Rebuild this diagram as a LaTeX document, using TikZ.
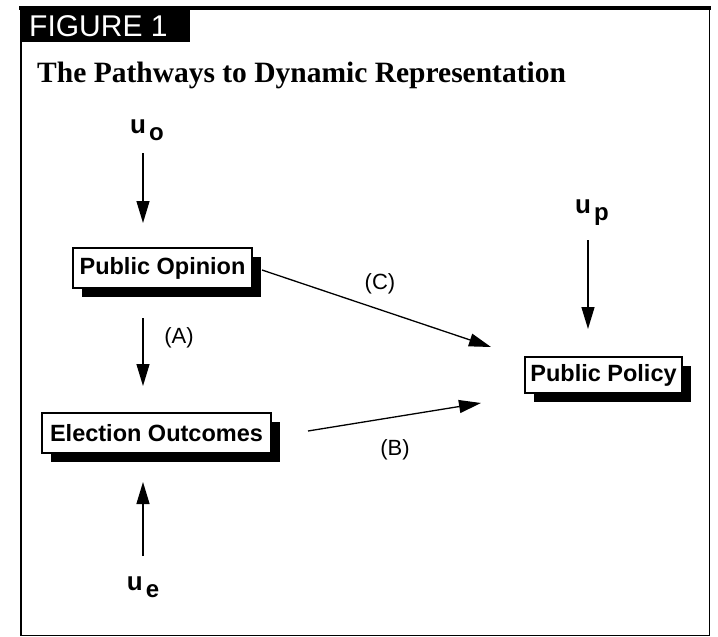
\documentclass[tikz,border=0pt]{standalone}
\usepackage{fontspec}
\setmainfont{Liberation Serif}
\setsansfont{Liberation Sans}
\usetikzlibrary{arrows.meta,shadows}
\tikzset{
  box/.style={draw=black, line width=1.2pt, fill=white, inner sep=0pt,
    font=\sffamily\bfseries\fontsize{23.5}{26}\selectfont,
    drop shadow={shadow xshift=9pt, shadow yshift=-9pt, fill=black, opacity=1}},
  lab/.style={font=\sffamily\fontsize{22}{24}\selectfont, inner sep=0pt},
  var/.style={font=\sffamily\bfseries\fontsize{26}{28}\selectfont, inner sep=0pt},
  arr/.style={line width=1.3pt, -{Triangle[length=22pt,width=13pt]}}
}
\newcommand{\subtx}[1]{{\kern3pt\raisebox{-7pt}{\fontsize{24}{26}\selectfont #1}}}
\begin{document}
\begin{tikzpicture}[x=1pt,y=-1pt]
\useasboundingbox (0,0) rectangle (718,637);
\fill[white] (0,0) rectangle (718,637);
% frame
\draw[line width=1.6pt] (20.8,8) -- (20.8,635.5) -- (709.5,635.5) -- (709.5,8);
\draw[line width=4pt] (19,8) -- (711,8);
\node[fill=black, minimum width=170pt, minimum height=34pt, anchor=north west, inner sep=0pt] (figbox) at (20,8) {};
\node[text=white, font=\sffamily\fontsize{30}{32}\selectfont, anchor=west, inner sep=0pt] (figlab) at (29,26) {FIGURE 1};
\node[font=\bfseries\fontsize{29.5}{32}\selectfont, anchor=west, inner sep=0pt] (title) at (37,75) {The Pathways to Dynamic Representation};
% boxes
\node[box, minimum width=179pt, minimum height=40pt] (po) at (162.5,268) {Public Opinion};
\node[box, minimum width=229pt, minimum height=40pt] (eo) at (156.5,433) {Election Outcomes};
\node[box, minimum width=157pt, minimum height=36pt] (pp) at (603.5,375) {Public Policy};
% error terms
\node[var] (uo) at (147,130) {u\subtx{o}};
\node[var] (ue) at (143,587) {u\subtx{e}};
\node[var] (up) at (592,213) {u\subtx{p}};
% arrow ends
\coordinate (uoS) at (143,153);
\coordinate (poN) at (143,223);
\coordinate (poS) at (143,318);
\coordinate (eoN) at (143,386);
\coordinate (ueN) at (143,556);
\coordinate (eoS) at (143,482);
\coordinate (upS) at (588,240);
\coordinate (ppN) at (588,329);
\coordinate (poE) at (262,270);
\coordinate (ppW) at (491,347);
\coordinate (eoE) at (308,431);
\coordinate (ppW2) at (481,403);
\draw[arr] (uoS) -- (poN);
\draw[arr] (poS) -- (eoN);
\draw[arr] (ueN) -- (eoS);
\draw[arr] (upS) -- (ppN);
\draw[arr] (poE) -- (ppW);
\draw[arr] (eoE) -- (ppW2);
% labels
\node[lab] (la) at (179,338) {(A)};
\node[lab] (lc) at (380,284) {(C)};
\node[lab] (lb) at (395,450) {(B)};
\end{tikzpicture}
\end{document}
